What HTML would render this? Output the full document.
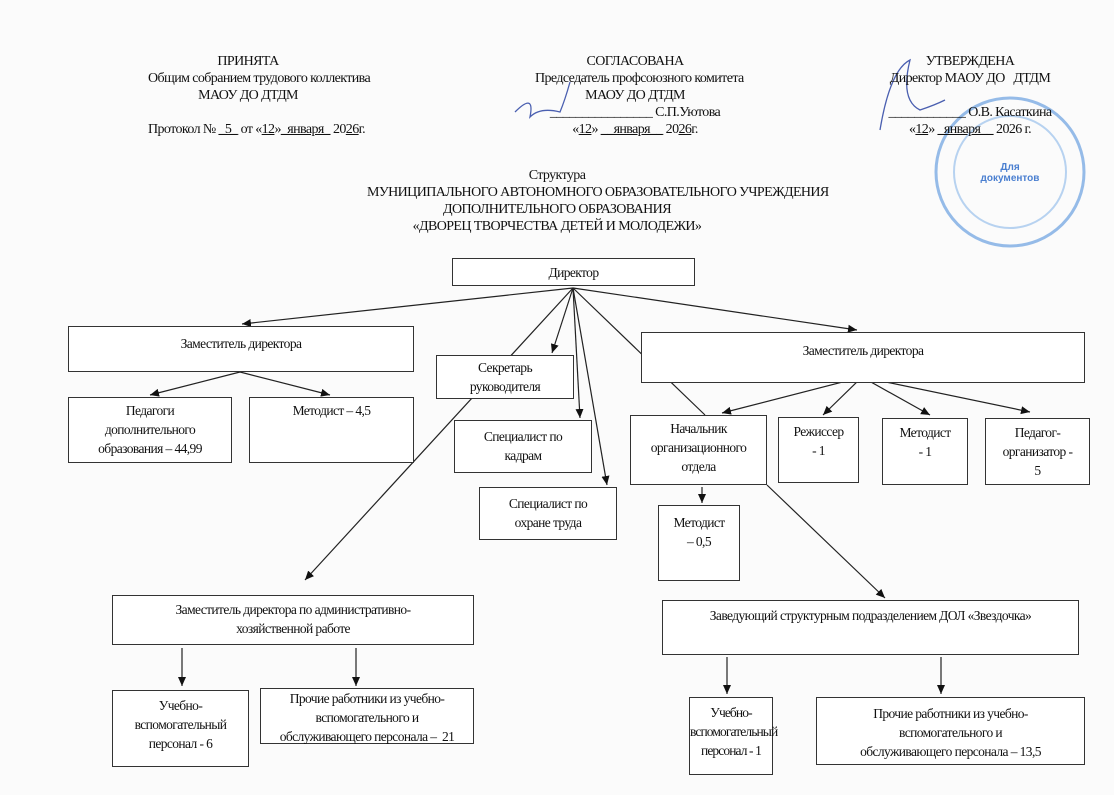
<!DOCTYPE html>
<html><head><meta charset="utf-8">
<style>
body{margin:0;background:#fbfbfb;}
#c{position:relative;width:1114px;height:795px;overflow:hidden;font-family:"Liberation Serif",serif;color:#111;}
.b{position:absolute;border:1.3px solid #333;background:#fff;box-sizing:border-box;font-size:13.5px;line-height:19px;text-align:center;letter-spacing:-0.6px;white-space:nowrap;}
.t{position:absolute;font-size:14px;line-height:17px;text-align:center;letter-spacing:-0.6px;white-space:nowrap;}
svg{position:absolute;left:0;top:0;}
</style></head><body><div id="c">
<svg width="1114" height="795">
<defs><marker id="a" markerWidth="10" markerHeight="10" refX="9" refY="5" orient="auto" markerUnits="userSpaceOnUse"><path d="M0,1 L9,5 L0,9z" fill="#111"/></marker></defs>
<g stroke="#222" stroke-width="1.2" fill="none">
<line x1="573" y1="288" x2="242" y2="324" marker-end="url(#a)"/>
<line x1="573" y1="288" x2="857" y2="330" marker-end="url(#a)"/>
<line x1="573" y1="288" x2="552" y2="353" marker-end="url(#a)"/>
<line x1="573" y1="288" x2="305" y2="580" marker-end="url(#a)"/>
<line x1="573" y1="288" x2="580" y2="418" marker-end="url(#a)"/>
<line x1="573" y1="288" x2="607" y2="485" marker-end="url(#a)"/>
<line x1="573" y1="288" x2="705" y2="415"/>
<line x1="862" y1="377" x2="722" y2="413" marker-end="url(#a)"/>
<line x1="862" y1="377" x2="823" y2="415" marker-end="url(#a)"/>
<line x1="862" y1="377" x2="930" y2="415" marker-end="url(#a)"/>
<line x1="862" y1="377" x2="1030" y2="412" marker-end="url(#a)"/>
<line x1="702" y1="487" x2="702" y2="503" marker-end="url(#a)"/>
<line x1="767" y1="485" x2="885" y2="598" marker-end="url(#a)"/>
<line x1="240" y1="372" x2="150" y2="395" marker-end="url(#a)"/>
<line x1="240" y1="372" x2="330" y2="395" marker-end="url(#a)"/>
<line x1="182" y1="648" x2="182" y2="686" marker-end="url(#a)"/>
<line x1="356" y1="648" x2="356" y2="686" marker-end="url(#a)"/>
<line x1="727" y1="657" x2="727" y2="694" marker-end="url(#a)"/>
<line x1="941" y1="657" x2="941" y2="694" marker-end="url(#a)"/>
</g>
<circle cx="1010" cy="172" r="74" fill="none" stroke="#6aa0e0" stroke-width="3" opacity="0.7"/>
<circle cx="1010" cy="172" r="56" fill="none" stroke="#8ab8ea" stroke-width="2" opacity="0.6"/>
<g stroke="#4a5fb0" stroke-width="1.3" fill="none">
<path d="M515,112 q20,-20 15,5 q10,-10 30,-5 q5,-12 10,-30"/>
<path d="M880,130 q10,-60 30,-70 q-10,40 10,50 q15,-5 25,-10"/>
</g>
</svg>
<div class="t" style="left:148px;top:53px;width:200px">ПРИНЯТА<br>Общим собранием трудового коллектива<br>МАОУ ДО ДТДМ<br><br>Протокол № <u>_5_</u> от «<u>12</u>»<u>_января_</u> 20<u>26</u>г.</div>
<div class="t" style="left:535px;top:53px;width:200px">СОГЛАСОВАНА<br>Председатель профсоюзного комитета<br>МАОУ ДО ДТДМ<br>________________ С.П.Уютова<br>«<u>12</u>» <u>__января__</u> 20<u>26</u>г.</div>
<div class="t" style="left:870px;top:53px;width:200px">УТВЕРЖДЕНА<br>Директор МАОУ ДО&nbsp;&nbsp; ДТДМ<br><br>____________ О.В. Касаткина<br>«<u>12</u>» <u>_января__</u> 2026 г.</div>
<div class="t" style="left:367px;top:167px;width:380px">Структура<br>МУНИЦИПАЛЬНОГО АВТОНОМНОГО ОБРАЗОВАТЕЛЬНОГО УЧРЕЖДЕНИЯ<br>ДОПОЛНИТЕЛЬНОГО ОБРАЗОВАНИЯ<br>«ДВОРЕЦ ТВОРЧЕСТВА ДЕТЕЙ И МОЛОДЕЖИ»</div>
<div class="t" style="left:970px;top:162px;width:80px;font-family:'Liberation Sans';font-size:10px;line-height:11px;color:#4a7fd0;font-weight:bold;letter-spacing:0">Для<br>документов</div>
<div class="b" style="left:452px;top:258px;width:243px;height:28px;padding-top:4px">Директор</div>
<div class="b" style="left:68px;top:326px;width:346px;height:46px;padding-top:7px">Заместитель директора</div>
<div class="b" style="left:436px;top:355px;width:138px;height:44px;padding-top:2px">Секретарь<br>руководителя</div>
<div class="b" style="left:641px;top:332px;width:444px;height:51px;padding-top:8px">Заместитель директора</div>
<div class="b" style="left:68px;top:397px;width:164px;height:66px;padding-top:3px">Педагоги<br>дополнительного<br>образования – 44,99</div>
<div class="b" style="left:249px;top:397px;width:165px;height:66px;padding-top:3px">Методист – 4,5</div>
<div class="b" style="left:454px;top:420px;width:138px;height:53px;padding-top:6px">Специалист по<br>кадрам</div>
<div class="b" style="left:479px;top:487px;width:138px;height:53px;padding-top:6px">Специалист по<br>охране труда</div>
<div class="b" style="left:630px;top:415px;width:137px;height:70px;padding-top:3px">Начальник<br>организационного<br>отдела</div>
<div class="b" style="left:778px;top:417px;width:81px;height:66px;padding-top:4px">Режиссер<br>- 1</div>
<div class="b" style="left:882px;top:418px;width:86px;height:67px;padding-top:4px">Методист<br>- 1</div>
<div class="b" style="left:985px;top:418px;width:105px;height:67px;padding-top:4px">Педагог-<br>организатор -<br>5</div>
<div class="b" style="left:658px;top:505px;width:82px;height:76px;padding-top:7px">Методист<br>– 0,5</div>
<div class="b" style="left:112px;top:595px;width:362px;height:50px;padding-top:4px">Заместитель директора по административно-<br>хозяйственной работе</div>
<div class="b" style="left:662px;top:600px;width:417px;height:55px;padding-top:5px">Заведующий структурным подразделением ДОЛ «Звездочка»</div>
<div class="b" style="left:112px;top:690px;width:137px;height:77px;padding-top:5px">Учебно-<br>вспомогательный<br>персонал - 6</div>
<div class="b" style="left:260px;top:688px;width:214px;height:56px;padding-top:0px">Прочие работники из учебно-<br>вспомогательного и<br>обслуживающего персонала –&nbsp; 21</div>
<div class="b" style="left:689px;top:697px;width:84px;height:78px;padding-top:5px;letter-spacing:-0.9px">Учебно-<br>вспомогательный<br>персонал - 1</div>
<div class="b" style="left:816px;top:697px;width:269px;height:68px;padding-top:6px">Прочие работники из учебно-<br>вспомогательного и<br>обслуживающего персонала – 13,5</div>
</div></body></html>
